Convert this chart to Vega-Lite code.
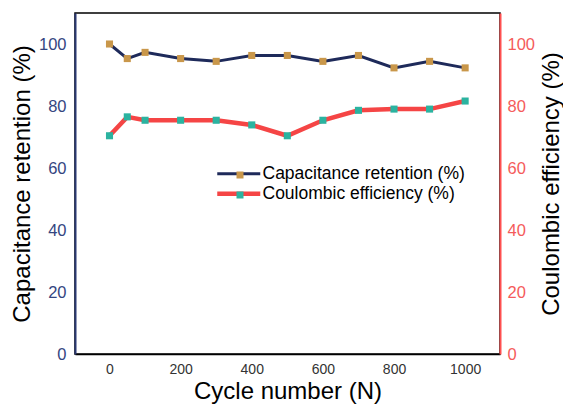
{
  "$schema": "https://vega.github.io/schema/vega-lite/v6.json",
  "width": 425,
  "height": 341,
  "autosize": {"type": "none"},
  "padding": {"left": 75, "top": 13, "right": 63, "bottom": 52},
  "background": "white",
  "config": {
    "font": "Liberation Sans",
    "view": {"stroke": "black", "strokeWidth": 1.5}
  },
  "datasets": {
    "cap": [
      {"cycle": 0, "value": 100, "series": "Capacitance retention (%)", "key": "cap"},
      {"cycle": 50, "value": 95.3, "series": "Capacitance retention (%)", "key": "cap"},
      {"cycle": 100, "value": 97.3, "series": "Capacitance retention (%)", "key": "cap"},
      {"cycle": 200, "value": 95.3, "series": "Capacitance retention (%)", "key": "cap"},
      {"cycle": 300, "value": 94.4, "series": "Capacitance retention (%)", "key": "cap"},
      {"cycle": 400, "value": 96.3, "series": "Capacitance retention (%)", "key": "cap"},
      {"cycle": 500, "value": 96.3, "series": "Capacitance retention (%)", "key": "cap"},
      {"cycle": 600, "value": 94.4, "series": "Capacitance retention (%)", "key": "cap"},
      {"cycle": 700, "value": 96.3, "series": "Capacitance retention (%)", "key": "cap"},
      {"cycle": 800, "value": 92.3, "series": "Capacitance retention (%)", "key": "cap"},
      {"cycle": 900, "value": 94.4, "series": "Capacitance retention (%)", "key": "cap"},
      {"cycle": 1000, "value": 92.3, "series": "Capacitance retention (%)", "key": "cap"}
    ],
    "coul": [
      {"cycle": 0, "value": 70.4, "series": "Coulombic efficiency (%)", "key": "coul"},
      {"cycle": 50, "value": 76.5, "series": "Coulombic efficiency (%)", "key": "coul"},
      {"cycle": 100, "value": 75.4, "series": "Coulombic efficiency (%)", "key": "coul"},
      {"cycle": 200, "value": 75.4, "series": "Coulombic efficiency (%)", "key": "coul"},
      {"cycle": 300, "value": 75.4, "series": "Coulombic efficiency (%)", "key": "coul"},
      {"cycle": 400, "value": 73.9, "series": "Coulombic efficiency (%)", "key": "coul"},
      {"cycle": 500, "value": 70.4, "series": "Coulombic efficiency (%)", "key": "coul"},
      {"cycle": 600, "value": 75.4, "series": "Coulombic efficiency (%)", "key": "coul"},
      {"cycle": 700, "value": 78.6, "series": "Coulombic efficiency (%)", "key": "coul"},
      {"cycle": 800, "value": 79.0, "series": "Coulombic efficiency (%)", "key": "coul"},
      {"cycle": 900, "value": 79.0, "series": "Coulombic efficiency (%)", "key": "coul"},
      {"cycle": 1000, "value": 81.6, "series": "Coulombic efficiency (%)", "key": "coul"}
    ]
  },
  "encoding": {
    "x": {
      "field": "cycle",
      "type": "quantitative",
      "scale": {"domain": [-97, 1098], "nice": false, "zero": false},
      "axis": {
        "values": [0, 100, 200, 300, 400, 500, 600, 700, 800, 900, 1000],
        "format": "d",
        "labelExpr": "datum.value % 200 === 0 ? datum.label : ''",
        "tickSize": 0,
        "encode": {"ticks": {"update": {"y2": {"signal": "datum.value % 200 === 0 ? -5 : -3"}}}},
        "grid": false,
        "domainColor": "black",
        "domainWidth": 1.5,
        "tickColor": "black",
        "tickWidth": 1.5,
        "labelFontSize": 14,
        "labelColor": "#333333",
        "labelPadding": 8,
        "title": "Cycle number (N)",
        "titleFontSize": 24,
        "titleFontWeight": "normal",
        "titleColor": "black",
        "titlePadding": 3
      }
    }
  },
  "layer": [
    {
      "data": {"name": "cap"},
      "encoding": {
        "y": {
          "field": "value",
          "type": "quantitative",
          "scale": {"domain": [0, 110], "nice": false},
          "axis": {
            "orient": "left",
            "values": [0, 10, 20, 30, 40, 50, 60, 70, 80, 90, 100],
            "labelExpr": "datum.value % 20 === 0 ? datum.label : ''",
            "tickSize": 0,
            "encode": {"ticks": {"update": {"x2": {"signal": "datum.value % 20 === 0 ? 5 : 3"}}}},
            "grid": false,
            "domainColor": "#2a3872",
            "domainWidth": 2,
            "tickColor": "#2a3872",
            "tickWidth": 1.5,
            "labelFontSize": 16.5,
            "labelColor": "#34457f",
            "labelPadding": 9,
            "title": "Capacitance retention (%)",
            "titleFontSize": 24,
            "titleFontWeight": "normal",
            "titleColor": "black",
            "titlePadding": 4
          }
        }
      },
      "layer": [
        {
          "mark": {"type": "line", "strokeWidth": 3},
          "encoding": {
            "stroke": {
              "field": "series",
              "type": "nominal",
              "scale": {"domain": ["Capacitance retention (%)", "Coulombic efficiency (%)"], "range": ["#1e2a5a", "#f54545"]},
              "legend": {
                "orient": "none",
                "legendX": 155,
                "legendY": 152,
                "title": null,
                "padding": 0,
                "symbolType": "M-2.15,0H2.15",
                "symbolSize": 400,
                "symbolFillColor": "transparent",
                "symbolStrokeWidth": 3.5,
                "labelFontSize": 17.5,
                "labelLimit": 0,
                "labelColor": "black",
                "labelOffset": 15,
                "rowPadding": 1,
                "zindex": 0,
                "encode": {"symbols": {"update": {"strokeWidth": {"signal": "datum.value === 'Capacitance retention (%)' ? 3 : 4.5"}}}}
              }
            }
          }
        },
        {
          "mark": {"type": "point", "shape": "square", "filled": true, "size": 50, "opacity": 1},
          "encoding": {
            "fill": {
              "field": "key",
              "type": "nominal",
              "scale": {"domain": ["cap", "coul"], "range": ["#c9974a", "#2bb3a0"]},
              "legend": {
                "orient": "none",
                "legendX": 155,
                "legendY": 152,
                "title": null,
                "padding": 0,
                "symbolType": "M-0.35,-0.35H0.35V0.35H-0.35Z",
                "symbolSize": 400,
                "symbolStrokeWidth": 0,
                "symbolOpacity": 1,
                "labelFontSize": 17.5,
                "labelExpr": "''",
                "labelOffset": 15,
                "rowPadding": 1,
                "zindex": 1
              }
            }
          }
        }
      ]
    },
    {
      "data": {"name": "coul"},
      "encoding": {
        "y": {
          "field": "value",
          "type": "quantitative",
          "scale": {"domain": [0, 110], "nice": false},
          "axis": {
            "orient": "right",
            "values": [0, 10, 20, 30, 40, 50, 60, 70, 80, 90, 100],
            "labelExpr": "datum.value % 20 === 0 ? datum.label : ''",
            "tickSize": 0,
            "encode": {"ticks": {"update": {"x2": {"signal": "datum.value % 20 === 0 ? -6 : -3"}}}},
            "grid": false,
            "domainColor": "#ff5050",
            "domainWidth": 2,
            "tickColor": "#ff5050",
            "tickWidth": 1.5,
            "labelFontSize": 16.5,
            "labelColor": "#f55b5b",
            "labelPadding": 7,
            "title": "Coulombic efficiency (%)",
            "titleFontSize": 24,
            "titleFontWeight": "normal",
            "titleColor": "black",
            "titleAngle": 270,
            "titleBaseline": "top",
            "titlePadding": 5
          }
        }
      },
      "layer": [
        {
          "mark": {"type": "line", "strokeWidth": 4.5},
          "encoding": {
            "stroke": {
              "field": "series",
              "type": "nominal",
              "scale": {"domain": ["Capacitance retention (%)", "Coulombic efficiency (%)"], "range": ["#1e2a5a", "#f54545"]},
              "legend": {
                "orient": "none",
                "legendX": 155,
                "legendY": 152,
                "title": null,
                "padding": 0,
                "symbolType": "M-2.15,0H2.15",
                "symbolSize": 400,
                "symbolFillColor": "transparent",
                "symbolStrokeWidth": 3.5,
                "labelFontSize": 17.5,
                "labelLimit": 0,
                "labelColor": "black",
                "labelOffset": 15,
                "rowPadding": 1,
                "zindex": 0,
                "encode": {"symbols": {"update": {"strokeWidth": {"signal": "datum.value === 'Capacitance retention (%)' ? 3 : 4.5"}}}}
              }
            }
          }
        },
        {
          "mark": {"type": "point", "shape": "square", "filled": true, "size": 50, "opacity": 1},
          "encoding": {
            "fill": {
              "field": "key",
              "type": "nominal",
              "scale": {"domain": ["cap", "coul"], "range": ["#c9974a", "#2bb3a0"]},
              "legend": {
                "orient": "none",
                "legendX": 155,
                "legendY": 152,
                "title": null,
                "padding": 0,
                "symbolType": "M-0.35,-0.35H0.35V0.35H-0.35Z",
                "symbolSize": 400,
                "symbolStrokeWidth": 0,
                "symbolOpacity": 1,
                "labelFontSize": 17.5,
                "labelExpr": "''",
                "labelOffset": 15,
                "rowPadding": 1,
                "zindex": 1
              }
            }
          }
        }
      ]
    }
  ],
  "resolve": {"scale": {"y": "independent"}}
}
